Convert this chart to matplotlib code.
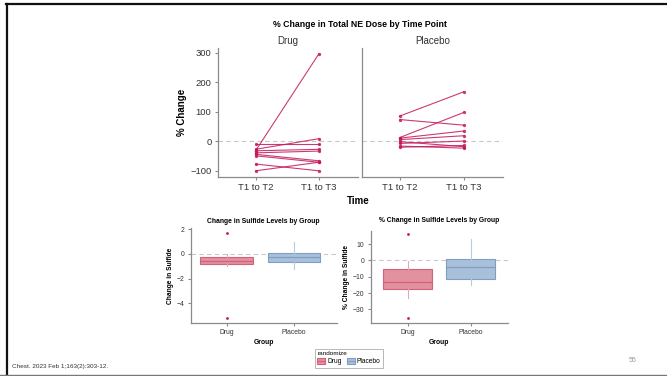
import matplotlib
matplotlib.use("Agg")
import matplotlib.pyplot as plt
from matplotlib.patches import Rectangle
from matplotlib.lines import Line2D

plt.rcParams['font.family'] = ['Liberation Sans', 'DejaVu Sans']

# ---- data ----
time_labels = ["T1 to T2", "T1 to T3"]
drug_t2 = [-10, -28, -33, -33, -40, -45, -50, -78, -101]
drug_t3 = [-10, 8, 296, -28, -34, -67, -72, -101, -72]
placebo_t2 = [85, 73, 12, 10, 5, -2, -8, -17, -21]
placebo_t3 = [167, 54, 97, 34, 18, -19, 0, -24, -15]

groups = ["Drug", "Placebo"]
# change in sulfide: q1, median, q3, whisker low, whisker high, outliers
sulfide_drug = [-0.84, -0.57, -0.27, -0.97, -0.03]
sulfide_drug_out = [1.68, -5.19]
sulfide_placebo = [-0.68, -0.22, 0.05, -1.19, 0.95]
sulfide_placebo_out = []
# % change in sulfide
pct_drug = [-17.8, -13.1, -5.5, -23.3, -0.4]
pct_drug_out = [15.9, -35.1]
pct_placebo = [-11.2, -4.3, 0.8, -15.3, 12.9]
pct_placebo_out = []

W, H = 667, 376
RED = '#c2185b'
SPINE = '#8a8a8a'


def px_axes(fig, left, right, top, bottom):
    return fig.add_axes([left / W, 1 - bottom / H, (right - left) / W, (bottom - top) / H])


def style(ax, fs):
    for s in ['top', 'right']:
        ax.spines[s].set_visible(False)
    for s in ['left', 'bottom']:
        ax.spines[s].set_color(SPINE)
        ax.spines[s].set_linewidth(0.9)
    ax.tick_params(colors=SPINE, labelcolor='#333333', labelsize=fs, length=2.5, width=0.8, pad=2)
    ax.axhline(0, color='#c8c8c8', lw=0.8, ls=(0, (4, 3)), zorder=0)


fig = plt.figure(figsize=(W / 100, H / 100), dpi=100)

# slide frame
fig.add_artist(Line2D([6 / W, 1], [1 - 3.5 / H, 1 - 3.5 / H], color='#111111', lw=1.6))
fig.add_artist(Line2D([7 / W, 7 / W], [0, 1 - 3.5 / H], color='#111111', lw=1.6))
fig.add_artist(Line2D([0, 1], [0.8 / H, 0.8 / H], color='#777777', lw=1.0))

# ---- top: paired lines ----
ax1 = px_axes(fig, 217.7, 358, 47.7, 176.7)
ax2 = px_axes(fig, 361.7, 503, 47.7, 176.7)
for ax, t2, t3, name in [(ax1, drug_t2, drug_t3, "Drug"), (ax2, placebo_t2, placebo_t3, "Placebo")]:
    style(ax, 6.8)
    for a, b in zip(t2, t3):
        ax.plot([0, 1], [a, b], color=RED, lw=0.8, alpha=0.85, marker='o', ms=2.4,
                markerfacecolor=RED, markeredgewidth=0)
    ax.set_xlim(-0.6, 1.62)
    ax.set_ylim(-121, 317)
    ax.set_xticks([0, 1])
    ax.set_xticklabels(time_labels)
    ax.set_yticks([-100, 0, 100, 200, 300])
    ax.set_title(name, fontsize=7, color='#333333', pad=3)
ax2.tick_params(axis='y', left=False, labelleft=False)
ax1.set_yticklabels(['\u2212100', '0', '100', '200', '300'])
ax1.set_ylabel('% Change', fontsize=7, fontweight='bold', labelpad=2)
fig.text(358 / W, 1 - 201 / H, 'Time', fontsize=7, fontweight='bold', ha='center', va='center')
fig.text(360 / W, 1 - 24.3 / H, '% Change in Total NE Dose by Time Point', fontsize=6.3,
         fontweight='bold', ha='center', va='center')

# ---- bottom: box plots ----
box_colors = [('#e3909f', '#d2627c', '#e3a9b6'), ('#a9c0da', '#7e9ec6', '#b4cbe0')]


def boxes(ax, stats, outs):
    for i, (st, fl) in enumerate(zip(stats, outs)):
        fill, edge, whisk = box_colors[i]
        d = dict(q1=st[0], med=st[1], q3=st[2], whislo=st[3], whishi=st[4], fliers=fl)
        ax.bxp([d], positions=[i], widths=0.78, patch_artist=True, showcaps=False,
               boxprops=dict(facecolor=fill, edgecolor=edge, lw=0.8),
               medianprops=dict(color=edge, lw=0.9),
               whiskerprops=dict(color=whisk, lw=0.8),
               flierprops=dict(marker='o', ms=2, markerfacecolor=RED, markeredgewidth=0))
    ax.set_xticks([0, 1])
    ax.set_xticklabels(groups)


ax3 = px_axes(fig, 190.7, 336.7, 228.3, 322.7)
style(ax3, 4.9)
boxes(ax3, [sulfide_drug, sulfide_placebo], [sulfide_drug_out, sulfide_placebo_out])
ax3.set_xlim(-0.53, 1.63)
ax3.set_ylim(-5.57, 2.08)
ax3.set_yticks([-4, -2, 0, 2])
ax3.set_yticklabels(['\u22124', '\u22122', '0', '2'])
ax3.set_ylabel('Change in Sulfide', fontsize=4.8, fontweight='bold', labelpad=2)
ax3.set_xlabel('Group', fontsize=4.9, fontweight='bold', labelpad=2)
ax3.set_title('Change in Sulfide Levels by Group', fontsize=4.9, fontweight='bold', pad=4)

ax4 = px_axes(fig, 370.7, 508, 230.7, 322.7)
style(ax4, 4.9)
boxes(ax4, [pct_drug, pct_placebo], [pct_drug_out, pct_placebo_out])
ax4.set_xlim(-0.59, 1.59)
ax4.set_ylim(-38.2, 18.2)
ax4.set_yticks([-30, -20, -10, 0, 10])
ax4.set_yticklabels(['\u221230', '\u221220', '\u221210', '0', '10'])
ax4.set_ylabel('% Change in Sulfide', fontsize=4.8, fontweight='bold', labelpad=2)
ax4.set_xlabel('Group', fontsize=4.9, fontweight='bold', labelpad=2)
ax4.set_title('% Change in Sulfide Levels by Group', fontsize=4.9, fontweight='bold', pad=6)

# ---- legend ----
handles = [(Rectangle((0, 0), 1, 1, facecolor=c[0], edgecolor=c[1], lw=0.8),
            Line2D([], [], color=c[1], lw=0.8)) for c in box_colors]
leg = fig.legend(handles, groups, title='randomize', loc='center', ncol=2,
                 bbox_to_anchor=(349 / W, 1 - 358.3 / H), fontsize=4.8, title_fontsize=4.6,
                 frameon=True, fancybox=False, handlelength=1.2, handleheight=1.0,
                 handletextpad=0.3, columnspacing=0.8, borderpad=0.4, labelspacing=0.3)
leg.get_frame().set_edgecolor('#999999')
leg.get_frame().set_linewidth(0.6)
leg._legend_box.align = 'left'

fig.text(12 / W, 1 - 366.7 / H, 'Chest. 2023 Feb 1;163(2):303-12.', fontsize=4.6,
         color='#333333', ha='left', va='center')
fig.text(632.5 / W, 1 - 360.3 / H, '55', fontsize=5, color='#999999', ha='center', va='center')

fig.savefig('out.png', dpi=100)
